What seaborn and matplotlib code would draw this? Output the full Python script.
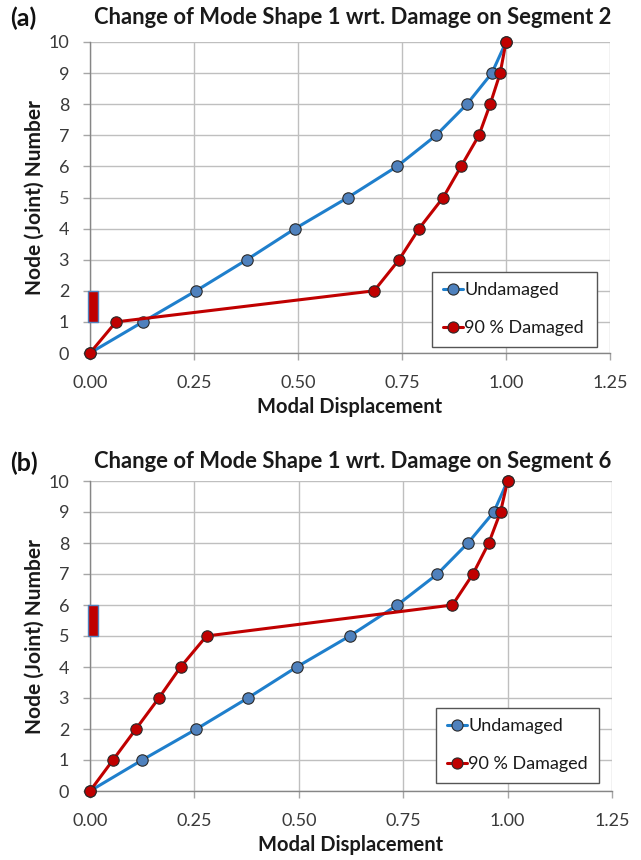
import matplotlib
matplotlib.use("Agg")
import matplotlib.pyplot as plt
import seaborn as sns
import pandas as pd
import numpy as np

# ---- data ----
nodes = list(range(11))
undamaged_a = [0.0, 0.127, 0.255, 0.377, 0.493, 0.620, 0.738, 0.832, 0.906, 0.966, 1.0]
damaged_a = [0.0, 0.0625, 0.683, 0.743, 0.791, 0.849, 0.892, 0.935, 0.962, 0.986, 1.0]
undamaged_b = [0.0, 0.125, 0.255, 0.378, 0.495, 0.622, 0.736, 0.832, 0.905, 0.967, 1.0]
damaged_b = [0.0, 0.055, 0.110, 0.165, 0.217, 0.279, 0.868, 0.917, 0.955, 0.983, 1.0]
segment_a = 2
segment_b = 6
titles = ["Change of Mode Shape 1 wrt. Damage on Segment 2",
          "Change of Mode Shape 1 wrt. Damage on Segment 6"]
panel_labels = ["(a)", "(b)"]
series_names = ["Undamaged", "90 % Damaged"]
x_ticks = [0.0, 0.25, 0.5, 0.75, 1.0, 1.25]
x_ticklabels = ["0.00", "0.25", "0.50", "0.75", "1.00", "1.25"]
y_ticks = list(range(11))

sns.set_theme(style="white")
plt.rcParams['font.family'] = ['Lato', 'DejaVu Sans']

blue_line = "#1F7FCC"
blue_face = "#4F81BD"
red_line = "#C00000"
red_face = "#C00000"
edge = "#2a2a2a"

fig = plt.figure(figsize=(6.41, 8.6), dpi=100)
W, H = 641, 860
rects = [(90, 42, 610, 353), (90, 481, 612, 791)]
datasets = [(undamaged_a, damaged_a, segment_a), (undamaged_b, damaged_b, segment_b)]
legend_boxes = [(432, 265, 597, 347), (436, 703, 599, 783)]
title_y = [18, 462]
panel_y = [18, 463]

for i, ((l, t, r, b), (und, dam, seg)) in enumerate(zip(rects, datasets)):
    ax = fig.add_axes([l / W, (H - b) / H, (r - l) / W, (b - t) / H])
    df = pd.DataFrame({
        "x": und + dam,
        "node": nodes + nodes,
        "series": [series_names[0]] * len(und) + [series_names[1]] * len(dam),
    })
    sns.lineplot(data=df, x="x", y="node", hue="series", sort=False, estimator=None,
                 palette={series_names[0]: blue_line, series_names[1]: red_line},
                 linewidth=2.2, marker="o", markersize=8.2, markeredgecolor=edge,
                 markeredgewidth=0.8, ax=ax, clip_on=False, zorder=3)
    for line, face in zip(ax.get_lines()[:2], [blue_face, red_face]):
        line.set_markerfacecolor(face)
    # damaged segment indicator
    ax.bar([0.007], [1], bottom=[seg - 1], width=0.024, color="#C00000",
           edgecolor="#4F81BD", linewidth=1.0, zorder=4, clip_on=False)

    ax.set_xlim(0, 1.25)
    ax.set_ylim(0, 10)
    ax.set_xticks(x_ticks)
    ax.set_xticklabels(x_ticklabels)
    ax.set_yticks(y_ticks)
    ax.grid(True, color="#BFBFBF", linewidth=1.0)
    ax.set_axisbelow(True)
    for s in ["top", "right"]:
        ax.spines[s].set_visible(False)
    for s in ["left", "bottom"]:
        ax.spines[s].set_color("#868686")
        ax.spines[s].set_linewidth(1.0)
    ax.tick_params(axis="both", which="major", length=5, width=1.0, color="#A6A6A6",
                   labelsize=13, labelcolor="#3a3a3a", direction="out",
                   bottom=True, left=True)
    ax.tick_params(axis="x", pad=11)
    ax.tick_params(axis="y", pad=10)
    ax.set_xlabel("Modal Displacement", fontsize=14.5, fontweight="bold", color="#1a1a1a",
                  labelpad=4)
    ax.set_ylabel("Node (Joint) Number", fontsize=15, fontweight="bold", color="#1a1a1a",
                  labelpad=3)
    fig.text(353 / W, 1 - title_y[i] / H, titles[i], fontsize=15.8, fontweight="bold",
             ha="center", va="center", color="#1a1a1a")
    fig.text(10 / W, 1 - panel_y[i] / H, panel_labels[i], fontsize=18, fontweight="bold",
             ha="left", va="center", color="#111111")

    lx0, ly0, lx1, ly1 = legend_boxes[i]
    leg = ax.legend(loc="lower left",
                    bbox_to_anchor=((lx0 - l) / (r - l), (b - ly1) / (b - t),
                                    (lx1 - lx0) / (r - l), (ly1 - ly0) / (b - t)),
                    mode="expand", borderaxespad=0, fancybox=False, frameon=True,
                    fontsize=13, handlelength=1.1, handletextpad=0.1,
                    labelspacing=1.2, borderpad=0.6)
    leg.get_frame().set_edgecolor("#555555")
    leg.get_frame().set_linewidth(1.0)
    leg.get_frame().set_alpha(1.0)
    for h, face in zip(leg.legend_handles, [blue_face, red_face]):
        h.set_markerfacecolor(face)
        h.set_markeredgecolor(edge)
        h.set_markersize(8)
    for txt in leg.get_texts():
        txt.set_color("#1a1a1a")

fig.savefig("out.png", dpi=100)
